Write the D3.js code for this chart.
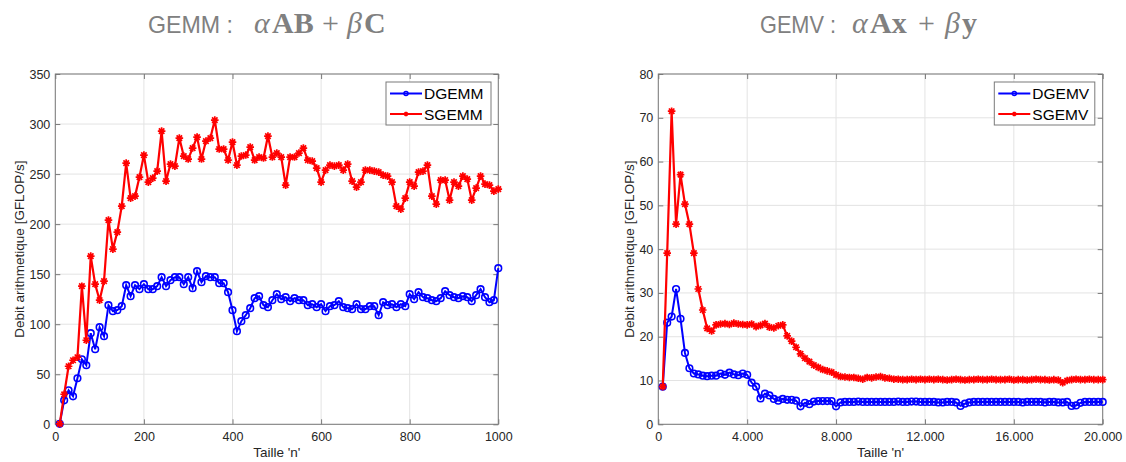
<!doctype html>
<html lang="fr">
<head>
<meta charset="utf-8">
<title>GEMM / GEMV</title>
<script src="https://cdn.jsdelivr.net/npm/d3@7"></script>
<style>
  body { margin: 0; background: #fff; }
  svg { font-family: "Liberation Sans", Arial, sans-serif; }
</style>
</head>
<body>
<div id="chart"></div>
<script>

// ---- data ----

// GEMM : matrix sizes 10..1000 (step 10)
var gemmSizes = d3.range(10, 1001, 10);

var dgemm = [
  0.5, 24, 34, 28, 46, 65, 59, 91, 75, 97,
  88, 119, 113, 114, 118, 139, 128, 139, 135, 140,
  135, 135, 138, 147, 138, 144, 147, 147, 140, 147,
  136, 153, 142, 148, 147, 147, 141, 141, 132, 114,
  93, 103, 109, 116, 126, 128, 119, 117, 124, 130,
  125, 127, 123, 126, 124, 124, 119, 120, 117, 120,
  113, 118, 119, 123, 117, 116, 115, 120, 115, 115,
  118, 118, 109, 122, 119, 120, 117, 120, 118, 130,
  125, 132, 127, 126, 124, 123, 126, 133, 129, 127,
  126, 128, 127, 123, 129, 135, 127, 122, 124, 156
];

var sgemm = [
  0.5, 30, 58, 64, 67, 138, 84, 168, 140, 124,
  143, 204, 175, 192, 218, 261, 226, 228, 247, 269,
  242, 246, 253, 293, 243, 260, 258, 286, 268, 265,
  276, 287, 265, 283, 286, 304, 275, 275, 264, 282,
  259, 268, 269, 277, 264, 267, 266, 288, 267, 271,
  267, 239, 267, 267, 271, 276, 264, 263, 256, 242,
  254, 259, 258, 259, 254, 260, 243, 237, 242, 254,
  254, 253, 252, 249, 248, 242, 218, 215, 226, 242,
  238, 252, 253, 259, 228, 220, 244, 244, 224, 242,
  238, 248, 245, 224, 236, 248, 240, 239, 233, 235
];

// GEMV : vector sizes 200..20000 (step 200)
var gemvSizes = d3.range(200, 20001, 200);

var dgemv = [
  8.6, 23.2, 24.6, 30.9, 24.1, 16.3, 12.8, 11.6, 11.4, 11.1,
  11.0, 11.1, 11.1, 11.6, 11.3, 11.8, 11.4, 11.2, 11.6, 11.3,
  9.5, 8.6, 5.9, 7.0, 6.6, 5.8, 5.4, 5.8, 5.6, 5.6,
  5.4, 4.1, 4.9, 4.6, 5.2, 5.3, 5.3, 5.3, 5.3, 4.1,
  5.0, 5.1, 5.1, 5.1, 5.2, 5.1, 5.1, 5.1, 5.1, 5.1,
  5.1, 5.1, 5.1, 5.2, 5.1, 5.1, 5.2, 5.2, 5.1, 5.1,
  5.1, 5.1, 5.0, 5.0, 5.1, 5.1, 5.0, 4.2, 4.7, 5.0,
  5.1, 5.1, 5.1, 5.1, 5.1, 5.1, 5.1, 5.1, 5.1, 5.1,
  5.1, 5.0, 5.1, 5.1, 5.1, 5.1, 5.0, 5.1, 5.1, 5.0,
  5.0, 5.1, 4.2, 4.3, 4.9, 5.1, 5.1, 5.1, 5.1, 5.1
];

var sgemv = [
  8.6, 39.1, 71.5, 45.7, 57.0, 50.3, 45.7, 39.1, 30.9, 26.1,
  21.9, 21.3, 22.7, 22.9, 23.0, 22.8, 23.1, 22.9, 22.8, 22.7,
  22.9, 22.3, 22.6, 23.0, 22.2, 22.0, 22.5, 22.7, 20.2, 19.0,
  17.6, 16.1, 15.1, 14.3, 13.5, 13.0, 12.5, 12.2, 11.9, 11.3,
  10.9, 10.8, 10.7, 10.7, 10.5, 10.3, 10.7, 10.6, 10.8, 10.9,
  10.6, 10.5, 10.3, 10.3, 10.2, 10.2, 10.3, 10.2, 10.3, 10.2,
  10.3, 10.2, 10.3, 10.2, 10.1, 10.2, 10.3, 10.2, 10.1, 10.2,
  10.2, 10.3, 10.2, 10.2, 10.3, 10.2, 10.2, 10.2, 10.3, 10.1,
  10.2, 10.2, 10.1, 10.2, 10.3, 10.2, 10.2, 10.1, 10.2, 10.1,
  9.5, 10.0, 10.2, 10.3, 10.2, 10.2, 10.3, 10.2, 10.2, 10.2
];

var gemmXTicks = [0, 200, 400, 600, 800, 1000];
var gemmYTicks = [0, 50, 100, 150, 200, 250, 300, 350];
var gemvXTicks = [0, 4000, 8000, 12000, 16000, 20000];
var gemvYTicks = [0, 10, 20, 30, 40, 50, 60, 70, 80];

var gemmLegend = ["DGEMM", "SGEMM"];
var gemvLegend = ["DGEMV", "SGEMV"];

var xLabel = "Taille 'n'";
var yLabel = "Debit arithmetique [GFLOP/s]";

// ---- drawing ----

var W = 1126, H = 462;
var svg = d3.select("#chart").append("svg").attr("width", W).attr("height", H);

var BLUE = "#0000ff", RED = "#ff0000";

// "4.000" style thousands
var frLocale = d3.formatLocale({ decimal: ",", thousands: ".", grouping: [3], currency: ["", ""] });

function drawCircle(sel, r) {
  sel.append("circle").attr("r", r).attr("fill", "none").attr("stroke", BLUE).attr("stroke-width", 1.6);
}

function drawStar(sel, s) {
  var d = s * 0.72;
  sel.append("path")
    .attr("d", "M" + (-s) + ",0H" + s + "M0," + (-s) + "V" + s +
               "M" + (-d) + "," + (-d) + "L" + d + "," + d +
               "M" + (-d) + "," + d + "L" + d + "," + (-d))
    .attr("stroke", RED).attr("stroke-width", 1.7).attr("fill", "none");
}

function drawPanel(p) {
  var x = d3.scaleLinear().domain(p.xDomain).range([p.left, p.right]);
  var y = d3.scaleLinear().domain(p.yDomain).range([p.bottom, p.top]);
  var g = svg.append("g");

  // grid
  g.selectAll(".vg").data(p.xTicks).enter().append("line")
    .attr("x1", d => x(d)).attr("x2", d => x(d))
    .attr("y1", p.top).attr("y2", p.bottom)
    .attr("stroke", "#e3e3e3").attr("stroke-width", 1);
  g.selectAll(".hg").data(p.yTicks).enter().append("line")
    .attr("x1", p.left).attr("x2", p.right)
    .attr("y1", d => y(d)).attr("y2", d => y(d))
    .attr("stroke", "#e3e3e3").attr("stroke-width", 1);

  // axes, ticks pointing inward on all four sides
  var ax = g.append("g").attr("transform", "translate(0," + p.bottom + ")")
    .call(d3.axisBottom(x).tickValues(p.xTicks).tickSize(-5).tickPadding(8).tickFormat(p.xFormat));
  var ay = g.append("g").attr("transform", "translate(" + p.left + ",0)")
    .call(d3.axisLeft(y).tickValues(p.yTicks).tickSize(-5).tickPadding(5));
  var at = g.append("g").attr("transform", "translate(0," + p.top + ")")
    .call(d3.axisTop(x).tickValues(p.xTicks).tickSize(-5).tickFormat(""));
  var ar = g.append("g").attr("transform", "translate(" + p.right + ",0)")
    .call(d3.axisRight(y).tickValues(p.yTicks).tickSize(-5).tickFormat(""));

  [ax, ay, at, ar].forEach(function (a) {
    a.select(".domain").remove();
    a.selectAll(".tick line").attr("stroke", "#7a7a7a");
    a.selectAll(".tick text").attr("fill", "#262626").attr("font-size", "12.5px")
      .attr("font-family", "Liberation Sans, Arial, sans-serif");
  });

  g.append("rect")
    .attr("x", p.left).attr("y", p.top)
    .attr("width", p.right - p.left).attr("height", p.bottom - p.top)
    .attr("fill", "none").attr("stroke", "#7a7a7a").attr("stroke-width", 1);

  // axis labels
  g.append("text")
    .attr("x", (p.left + p.right) / 2).attr("y", 457)
    .attr("text-anchor", "middle").attr("font-size", "13.5px").attr("fill", "#262626")
    .text(xLabel);
  g.append("text")
    .attr("transform", "translate(" + p.yLabelX + "," + (p.top + p.bottom) / 2 + ") rotate(-90)")
    .attr("text-anchor", "middle").attr("font-size", "13.5px").attr("fill", "#262626")
    .text(yLabel);

  // series : double (blue circles) then single (red stars) on top
  var line = d3.line().x(d => x(d[0])).y(d => y(d[1]));
  var dPts = p.sizes.map((n, i) => [n, p.dbl[i]]);
  var sPts = p.sizes.map((n, i) => [n, p.sgl[i]]);

  g.append("path").datum(dPts).attr("d", line)
    .attr("fill", "none").attr("stroke", BLUE).attr("stroke-width", 2);
  g.selectAll(".dm").data(dPts).enter().append("g")
    .attr("transform", d => "translate(" + x(d[0]) + "," + y(d[1]) + ")")
    .each(function () { drawCircle(d3.select(this), 3.3); });

  g.append("path").datum(sPts).attr("d", line)
    .attr("fill", "none").attr("stroke", RED).attr("stroke-width", 2.2);
  g.selectAll(".sm").data(sPts).enter().append("g")
    .attr("transform", d => "translate(" + x(d[0]) + "," + y(d[1]) + ")")
    .each(function () { drawStar(d3.select(this), 3.8); });

  // legend
  var lg = g.append("g").attr("transform", "translate(" + p.legendX + "," + (p.top + 8) + ")");
  lg.append("rect").attr("x", 0).attr("y", 0).attr("width", p.legendW).attr("height", 43)
    .attr("fill", "#fff").attr("stroke", "#7a7a7a").attr("stroke-width", 1);
  p.legend.forEach(function (name, i) {
    var cy = 11.5 + i * 20.5;
    var col = i === 0 ? BLUE : RED;
    lg.append("line").attr("x1", 4).attr("x2", 36).attr("y1", cy).attr("y2", cy)
      .attr("stroke", col).attr("stroke-width", 2);
    var m = lg.append("g").attr("transform", "translate(20," + cy + ")");
    if (i === 0) drawCircle(m, 2); else drawStar(m, 2.2);
    lg.append("text").attr("x", 38).attr("y", cy).attr("dy", "0.36em")
      .attr("font-size", "15.5px").attr("fill", "#000").text(name);
  });
}

// titles : sans part + LaTeX-like math part (each glyph group placed at its x)
function drawTitle(t) {
  svg.append("text").attr("x", t.x0).attr("y", 33)
    .attr("fill", "#808080").attr("font-size", "24px")
    .attr("textLength", t.w0).attr("lengthAdjust", "spacingAndGlyphs")
    .text(t.head);
  var m = svg.append("text").attr("y", 33)
    .attr("fill", "#808080").attr("font-size", "30px")
    .style("font-family", "'Liberation Serif', 'DejaVu Serif', serif");
  t.math.forEach(function (pt) {
    var s = m.append("tspan").attr("x", pt.x).text(pt.t);
    if (pt.it) s.style("font-style", "italic");
    if (pt.b) s.style("font-weight", "bold");
  });
}

drawTitle({
  head: "GEMM :", x0: 148, w0: 85,
  math: [
    { t: "\u03b1", it: 1, x: 254 }, { t: "AB", b: 1, x: 272 }, { t: "+", x: 322 },
    { t: "\u03b2", it: 1, x: 347 }, { t: "C", b: 1, x: 364 }
  ]
});
drawTitle({
  head: "GEMV :", x0: 760, w0: 76,
  math: [
    { t: "\u03b1", it: 1, x: 852 }, { t: "Ax", b: 1, x: 870 }, { t: "+", x: 918 },
    { t: "\u03b2", it: 1, x: 945 }, { t: "y", b: 1, x: 962 }
  ]
});

drawPanel({
  left: 55.3, right: 498.3, top: 74, bottom: 424.3,
  xDomain: [0, 1000], yDomain: [0, 350],
  xTicks: gemmXTicks, yTicks: gemmYTicks, xFormat: d3.format("d"),
  sizes: gemmSizes, dbl: dgemm, sgl: sgemm,
  legend: gemmLegend, legendX: 386, legendW: 105, yLabelX: 24
});

drawPanel({
  left: 658.3, right: 1102.7, top: 74, bottom: 424.3,
  xDomain: [0, 20000], yDomain: [0, 80],
  xTicks: gemvXTicks, yTicks: gemvYTicks, xFormat: frLocale.format(",d"),
  sizes: gemvSizes, dbl: dgemv, sgl: sgemv,
  legend: gemvLegend, legendX: 994.3, legendW: 100.5, yLabelX: 634
});

</script>
</body>
</html>
